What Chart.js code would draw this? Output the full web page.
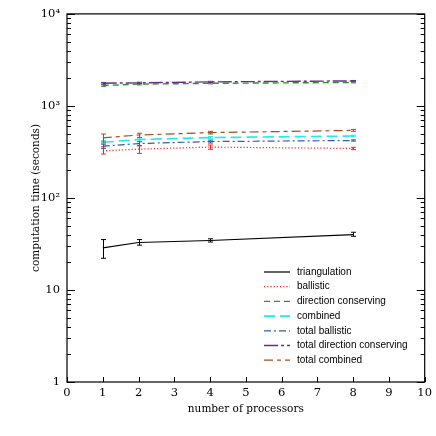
<!DOCTYPE html>
<html>
<head>
<meta charset="utf-8">
<script src="https://cdn.jsdelivr.net/npm/chart.js@4"></script>
<style>
  html, body { margin: 0; padding: 0; background: #fff; }
  #wrap { width: 436px; height: 436px; }
</style>
</head>
<body>
<div id="wrap"><canvas id="chart" width="436" height="436"></canvas></div>
<script>
// ---- data ----
const processors = [1, 2, 4, 8];

const triangulation = [28.7, 32.8, 34.5, 40];
const triangulationLow = [22.1, 30.7, 33.2, 38.3];
const triangulationHigh = [35.3, 35.3, 36, 42.4];

const ballistic = [325, 339, 357, 345];
const ballisticLow = [300, 305, 338, 335];
const ballisticHigh = [360, 368, 376, 355];

const directionConserving = [1665, 1724, 1760, 1800];
const directionConservingLow = [1630, 1690, 1735, 1780];
const directionConservingHigh = [1700, 1760, 1785, 1820];

const combined = [403, 431, 453, 471];
const combinedLow = [385, 415, 440, 462];
const combinedHigh = [420, 448, 466, 480];

const totalBallistic = [365, 390, 410, 421];
const totalBallisticLow = [345, 372, 395, 414];
const totalBallisticHigh = [385, 408, 425, 428];

const totalDirectionConserving = [1766, 1780, 1825, 1870];
const totalDirectionConservingLow = [1730, 1750, 1800, 1850];
const totalDirectionConservingHigh = [1800, 1810, 1850, 1890];

const totalCombined = [449, 483, 513, 542];
const totalCombinedLow = [405, 455, 495, 530];
const totalCombinedHigh = [495, 505, 530, 555];

const seriesNames = ['triangulation', 'ballistic', 'direction conserving', 'combined',
    'total ballistic', 'total direction conserving', 'total combined'];

const yMajorTicks = [1, 10, 100, 1000, 10000];
const yTickLabels = ['1', '10', '10\u00b2', '10\u00b3', '10\u2074'];

// ---- build datasets ----
function series(label, values, low, high, color, dash, width) {
    return {
        label: label,
        data: processors.map((x, i) => ({ x: x, y: values[i] })),
        errLow: low,
        errHigh: high,
        borderColor: color,
        backgroundColor: color,
        borderDash: dash,
        borderWidth: width || 1.2,
        pointRadius: 0,
        tension: 0,
        fill: false
    };
}

const datasets = [
    series(seriesNames[0], triangulation, triangulationLow, triangulationHigh, '#000000', [], 1.2),
    series(seriesNames[1], ballistic, ballisticLow, ballisticHigh, '#ff2020', [1.2, 2]),
    series(seriesNames[2], directionConserving, directionConservingLow, directionConservingHigh, '#2f8f2f', [6, 4], 1.4),
    series(seriesNames[3], combined, combinedLow, combinedHigh, '#22e8f0', [11, 5], 1.6),
    series(seriesNames[4], totalBallistic, totalBallisticLow, totalBallisticHigh, '#2a62ad', [7, 3, 2, 3]),
    series(seriesNames[5], totalDirectionConserving, totalDirectionConservingLow, totalDirectionConservingHigh, '#6a2c86', [14, 3, 3, 3], 1.4),
    series(seriesNames[6], totalCombined, totalCombinedLow, totalCombinedHigh, '#a0521e', [9, 4, 4, 4])
];

// error bars, frame, inward ticks and legend box
const decorations = {
    id: 'decorations',
    afterDatasetsDraw(chart) {
        const ctx = chart.ctx;
        const xs = chart.scales.x, ys = chart.scales.y;
        ctx.save();
        // error bars
        chart.data.datasets.forEach(ds => {
            ctx.strokeStyle = ds.borderColor;
            ctx.lineWidth = 1;
            ctx.setLineDash([]);
            ds.data.forEach((p, i) => {
                const px = Math.round(xs.getPixelForValue(p.x)) + 0.5;
                const lo = ys.getPixelForValue(ds.errLow[i]);
                const hi = ys.getPixelForValue(ds.errHigh[i]);
                ctx.beginPath();
                ctx.moveTo(px, lo); ctx.lineTo(px, hi);
                ctx.moveTo(px - 2.5, lo); ctx.lineTo(px + 2.5, lo);
                ctx.moveTo(px - 2.5, hi); ctx.lineTo(px + 2.5, hi);
                ctx.stroke();
            });
        });
        const a = chart.chartArea;
        // frame
        ctx.strokeStyle = '#000';
        ctx.lineWidth = 1.2;
        ctx.strokeRect(a.left, a.top, a.right - a.left, a.bottom - a.top);
        // x ticks, inward at the bottom
        ctx.lineWidth = 1;
        xs.ticks.forEach(t => {
            const px = Math.round(xs.getPixelForValue(t.value)) + 0.5;
            ctx.beginPath();
            ctx.moveTo(px, a.bottom); ctx.lineTo(px, a.bottom - 5);
            ctx.stroke();
        });
        // y ticks, inward, both sides
        ys.ticks.forEach(t => {
            const py = Math.round(ys.getPixelForValue(t.value)) + 0.5;
            const len = yMajorTicks.includes(t.value) ? 8 : 4;
            ctx.beginPath();
            ctx.moveTo(a.left, py); ctx.lineTo(a.left + len, py);
            ctx.moveTo(a.right, py); ctx.lineTo(a.right - len, py);
            ctx.stroke();
        });
        // legend
        ctx.font = '10px "Liberation Sans", Arial, sans-serif';
        ctx.textBaseline = 'middle';
        ctx.fillStyle = '#000';
        chart.data.datasets.forEach((ds, i) => {
            const y = 272 + i * 14.7;
            ctx.strokeStyle = ds.borderColor;
            ctx.lineWidth = ds.borderWidth;
            ctx.setLineDash(ds.borderDash);
            ctx.beginPath();
            ctx.moveTo(264, y); ctx.lineTo(290, y);
            ctx.stroke();
            ctx.fillText(ds.label, 297, y);
        });
        ctx.restore();
    }
};

const serif = '"DejaVu Serif", "Liberation Serif", serif';

new Chart(document.getElementById('chart'), {
    type: 'line',
    data: { datasets: datasets },
    options: {
        responsive: false,
        animation: false,
        layout: { padding: { top: 10, right: 10, left: 30, bottom: 16 } },
        plugins: { legend: { display: false }, tooltip: { enabled: false } },
        scales: {
            x: {
                type: 'linear',
                min: 0, max: 10,
                grid: { display: false, drawTicks: false },
                border: { display: false },
                ticks: { stepSize: 1, color: '#000', padding: 4, font: { family: serif, size: 11.5 } },
                title: { display: true, text: 'number of processors', color: '#000', padding: { top: 4 }, font: { family: serif, size: 10.5 } },
                afterFit: s => { s.height = 38; }
            },
            y: {
                type: 'logarithmic',
                min: 1, max: 10000,
                grid: { display: false, drawTicks: false },
                border: { display: false },
                afterBuildTicks: s => {
                    const t = [];
                    for (let d = 1; d < 10000; d *= 10) {
                        for (let m = 1; m < 10; m++) t.push({ value: d * m });
                    }
                    t.push({ value: 10000 });
                    s.ticks = t;
                },
                ticks: {
                    color: '#000', padding: 7, autoSkip: false,
                    font: { family: serif, size: 11.5 },
                    callback: v => {
                        const k = yMajorTicks.indexOf(v);
                        return k >= 0 ? yTickLabels[k] : '';
                    }
                },
                title: { display: true, text: 'computation time (seconds)', color: '#000', padding: 0, font: { family: serif, size: 10.5 } },
                afterFit: s => { s.width = 37; }
            }
        }
    },
    plugins: [decorations]
});
</script>
</body>
</html>
